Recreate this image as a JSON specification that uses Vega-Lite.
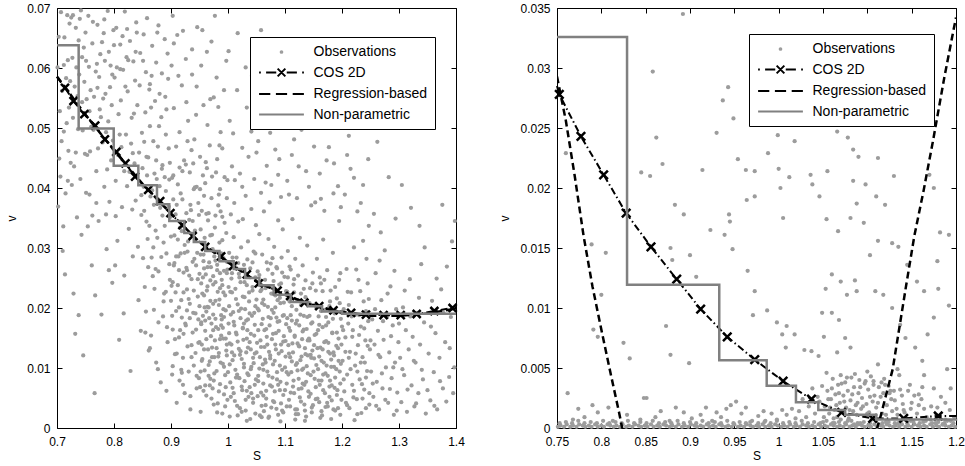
{
"$schema": "https://vega.github.io/schema/vega-lite/v6.json",
"padding": {"left": 5, "top": 1, "right": 5, "bottom": 5},
"config": {
 "font": "Liberation Sans",
 "view": {"stroke": "black", "strokeWidth": 1},
 "axis": {"domain": false, "grid": false, "tickColor": "black", "tickSize": -5, "tickWidth": 1, "labelPadding": 12, "labelFlush": false, "labelFontSize": 12, "labelColor": "black", "labelFont": "Liberation Sans", "titleFontSize": 12, "titleFontWeight": "normal", "titleColor": "black", "titleFont": "Liberation Sans", "format": "~g"}
},
"datasets": {
"series": [{"series": "Observations"}, {"series": "COS 2D"}, {"series": "Regression-based"}, {"series": "Non-parametric"}],
"obsL": [
{"s":0.703,"v":0.0652},{"s":0.708,"v":0.0478},{"s":0.712,"v":0.0605},{"s":0.715,"v":0.0391},{"s":0.718,"v":0.0688},{"s":0.721,"v":0.0534},{"s":0.724,"v":0.0442},{"s":0.727,"v":0.0617},{"s":0.729,"v":0.0224},{"s":0.731,"v":0.0569},{"s":0.733,"v":0.0667},{"s":0.735,"v":0.0351},{"s":0.737,"v":0.0498},{"s":0.739,"v":0.0589},{"s":0.741,"v":0.0415},{"s":0.742,"v":0.0696},{"s":0.744,"v":0.0543},{"s":0.746,"v":0.0121},{"s":0.747,"v":0.0634},{"s":0.749,"v":0.0457},{"s":0.705,"v":0.0528},{"s":0.710,"v":0.0295},{"s":0.716,"v":0.0583},{"s":0.722,"v":0.0674},{"s":0.726,"v":0.0405},{"s":0.732,"v":0.0157},{"s":0.738,"v":0.0646},{"s":0.743,"v":0.0322},{"s":0.748,"v":0.0577},{"s":0.706,"v":0.0419},
{"s":0.751,"v":0.0612},{"s":0.753,"v":0.0455},{"s":0.755,"v":0.0687},{"s":0.757,"v":0.0389},{"s":0.759,"v":0.0563},{"s":0.761,"v":0.0271},{"s":0.762,"v":0.0641},{"s":0.764,"v":0.0497},{"s":0.766,"v":0.0058},{"s":0.768,"v":0.0594},{"s":0.769,"v":0.0428},{"s":0.771,"v":0.0672},{"s":0.773,"v":0.0345},{"s":0.775,"v":0.0531},{"s":0.776,"v":0.0623},{"s":0.778,"v":0.0189},{"s":0.780,"v":0.0476},{"s":0.782,"v":0.0658},{"s":0.783,"v":0.0402},{"s":0.785,"v":0.0557},{"s":0.787,"v":0.0298},{"s":0.789,"v":0.0695},{"s":0.790,"v":0.0511},{"s":0.792,"v":0.0377},{"s":0.794,"v":0.0604},{"s":0.795,"v":0.0446},{"s":0.797,"v":0.0242},{"s":0.799,"v":0.0663},{"s":0.754,"v":0.0336},{"s":0.760,"v":0.0502},{"s":0.767,"v":0.0221},{"s":0.774,"v":0.0585},{"s":0.781,"v":0.0549},{"s":0.788,"v":0.0431},{"s":0.796,"v":0.0538},
{"s":0.801,"v":0.0584},{"s":0.803,"v":0.0412},{"s":0.804,"v":0.0667},{"s":0.806,"v":0.0312},{"s":0.808,"v":0.0523},{"s":0.809,"v":0.0147},{"s":0.811,"v":0.0639},{"s":0.813,"v":0.0468},{"s":0.814,"v":0.0368},{"s":0.816,"v":0.0597},{"s":0.818,"v":0.0254},{"s":0.819,"v":0.0694},{"s":0.821,"v":0.0489},{"s":0.823,"v":0.0403},{"s":0.824,"v":0.0561},{"s":0.826,"v":0.0332},{"s":0.828,"v":0.0645},{"s":0.829,"v":0.0095},{"s":0.831,"v":0.0517},{"s":0.833,"v":0.0286},{"s":0.834,"v":0.0611},{"s":0.836,"v":0.0441},{"s":0.838,"v":0.0379},{"s":0.839,"v":0.0676},{"s":0.841,"v":0.0538},{"s":0.843,"v":0.0213},{"s":0.844,"v":0.0459},{"s":0.846,"v":0.0625},{"s":0.848,"v":0.0355},{"s":0.849,"v":0.0492},{"s":0.802,"v":0.0271},{"s":0.807,"v":0.0455},{"s":0.812,"v":0.0546},{"s":0.817,"v":0.0191},{"s":0.822,"v":0.0618},{"s":0.827,"v":0.0427},{"s":0.832,"v":0.0364},{"s":0.837,"v":0.0579},{"s":0.842,"v":0.0302},{"s":0.847,"v":0.0162},
{"s":0.851,"v":0.0612},{"s":0.852,"v":0.0402},{"s":0.854,"v":0.0235},{"s":0.855,"v":0.0526},{"s":0.857,"v":0.0344},{"s":0.858,"v":0.0683},{"s":0.860,"v":0.0451},{"s":0.861,"v":0.0129},{"s":0.863,"v":0.0573},{"s":0.864,"v":0.0386},{"s":0.866,"v":0.0284},{"s":0.867,"v":0.0637},{"s":0.869,"v":0.0478},{"s":0.870,"v":0.0197},{"s":0.872,"v":0.0545},{"s":0.873,"v":0.0329},{"s":0.875,"v":0.0415},{"s":0.876,"v":0.0659},{"s":0.878,"v":0.0261},{"s":0.879,"v":0.0503},{"s":0.881,"v":0.0367},{"s":0.882,"v":0.0076},{"s":0.884,"v":0.0591},{"s":0.885,"v":0.0438},{"s":0.887,"v":0.0309},{"s":0.888,"v":0.0224},{"s":0.890,"v":0.0552},{"s":0.891,"v":0.0395},{"s":0.893,"v":0.0168},{"s":0.894,"v":0.0624},{"s":0.896,"v":0.0466},{"s":0.897,"v":0.0273},{"s":0.899,"v":0.0352},{"s":0.853,"v":0.0477},{"s":0.859,"v":0.0315},{"s":0.862,"v":0.0564},{"s":0.868,"v":0.0253},{"s":0.871,"v":0.0424},{"s":0.874,"v":0.0109},{"s":0.877,"v":0.0381},{"s":0.883,"v":0.0518},{"s":0.886,"v":0.0186},{"s":0.889,"v":0.0337},{"s":0.892,"v":0.0062},{"s":0.898,"v":0.0442},
{"s":0.901,"v":0.0604},{"s":0.902,"v":0.0417},{"s":0.903,"v":0.0243},{"s":0.905,"v":0.0533},{"s":0.906,"v":0.0321},{"s":0.907,"v":0.0148},{"s":0.909,"v":0.0469},{"s":0.910,"v":0.0372},{"s":0.911,"v":0.0655},{"s":0.913,"v":0.0286},{"s":0.914,"v":0.0201},{"s":0.915,"v":0.0493},{"s":0.917,"v":0.0391},{"s":0.918,"v":0.0097},{"s":0.919,"v":0.0571},{"s":0.921,"v":0.0337},{"s":0.922,"v":0.0259},{"s":0.923,"v":0.0446},{"s":0.925,"v":0.0174},{"s":0.926,"v":0.0615},{"s":0.927,"v":0.0358},{"s":0.929,"v":0.0294},{"s":0.930,"v":0.0512},{"s":0.931,"v":0.0215},{"s":0.933,"v":0.0426},{"s":0.934,"v":0.0053},{"s":0.935,"v":0.0363},{"s":0.937,"v":0.0589},{"s":0.938,"v":0.0277},{"s":0.939,"v":0.0192},{"s":0.941,"v":0.0481},{"s":0.942,"v":0.0329},{"s":0.943,"v":0.0125},{"s":0.945,"v":0.0402},{"s":0.946,"v":0.0668},{"s":0.947,"v":0.0248},{"s":0.949,"v":0.0355},{"s":0.904,"v":0.0381},{"s":0.908,"v":0.0226},{"s":0.912,"v":0.0314},{"s":0.916,"v":0.0163},{"s":0.920,"v":0.0428},{"s":0.924,"v":0.0305},{"s":0.928,"v":0.0231},{"s":0.932,"v":0.0347},{"s":0.936,"v":0.0138},{"s":0.940,"v":0.0398},{"s":0.944,"v":0.0271},{"s":0.948,"v":0.0181},{"s":0.903,"v":0.0687},{"s":0.919,"v":0.0092},{"s":0.927,"v":0.0543},{"s":0.936,"v":0.0463},{"s":0.944,"v":0.0522},{"s":0.949,"v":0.0083},
{"s":0.951,"v":0.0452},{"s":0.952,"v":0.0289},{"s":0.953,"v":0.0173},{"s":0.954,"v":0.0362},{"s":0.955,"v":0.0224},{"s":0.957,"v":0.0538},{"s":0.958,"v":0.0131},{"s":0.959,"v":0.0317},{"s":0.960,"v":0.0408},{"s":0.961,"v":0.0256},{"s":0.962,"v":0.0194},{"s":0.963,"v":0.0627},{"s":0.965,"v":0.0346},{"s":0.966,"v":0.0087},{"s":0.967,"v":0.0276},{"s":0.968,"v":0.0471},{"s":0.969,"v":0.0212},{"s":0.970,"v":0.0153},{"s":0.971,"v":0.0383},{"s":0.973,"v":0.0298},{"s":0.974,"v":0.0239},{"s":0.975,"v":0.0551},{"s":0.976,"v":0.0118},{"s":0.977,"v":0.0334},{"s":0.978,"v":0.0182},{"s":0.979,"v":0.0426},{"s":0.981,"v":0.0263},{"s":0.982,"v":0.0041},{"s":0.983,"v":0.0371},{"s":0.984,"v":0.0205},{"s":0.985,"v":0.0309},{"s":0.986,"v":0.0148},{"s":0.987,"v":0.0493},{"s":0.989,"v":0.0247},{"s":0.990,"v":0.0352},{"s":0.991,"v":0.0167},{"s":0.992,"v":0.0283},{"s":0.993,"v":0.0102},{"s":0.994,"v":0.0418},{"s":0.995,"v":0.0221},{"s":0.997,"v":0.0325},{"s":0.998,"v":0.0139},{"s":0.999,"v":0.0264},{"s":0.952,"v":0.0094},{"s":0.956,"v":0.0421},{"s":0.958,"v":0.0266},{"s":0.962,"v":0.0357},{"s":0.964,"v":0.0202},{"s":0.968,"v":0.0071},{"s":0.972,"v":0.0322},{"s":0.974,"v":0.0163},{"s":0.978,"v":0.0243},{"s":0.980,"v":0.0584},{"s":0.984,"v":0.0125},{"s":0.986,"v":0.0398},{"s":0.988,"v":0.0188},{"s":0.992,"v":0.0226},{"s":0.996,"v":0.0068},{"s":0.998,"v":0.0383},{"s":0.955,"v":0.0663},{"s":0.964,"v":0.0505},{"s":0.971,"v":0.0644},{"s":0.983,"v":0.0535},{"s":0.990,"v":0.0466},{"s":0.997,"v":0.0612},
{"s":1.001,"v":0.0174},{"s":1.002,"v":0.0292},{"s":1.003,"v":0.0106},{"s":1.004,"v":0.0227},{"s":1.005,"v":0.0356},{"s":1.006,"v":0.0139},{"s":1.007,"v":0.0258},{"s":1.008,"v":0.0067},{"s":1.009,"v":0.0193},{"s":1.010,"v":0.0318},{"s":1.011,"v":0.0121},{"s":1.012,"v":0.0413},{"s":1.013,"v":0.0232},{"s":1.014,"v":0.0159},{"s":1.015,"v":0.0284},{"s":1.016,"v":0.0089},{"s":1.017,"v":0.0206},{"s":1.018,"v":0.0344},{"s":1.019,"v":0.0132},{"s":1.020,"v":0.0251},{"s":1.021,"v":0.0033},{"s":1.022,"v":0.0183},{"s":1.023,"v":0.0301},{"s":1.024,"v":0.0115},{"s":1.025,"v":0.0467},{"s":1.026,"v":0.0219},{"s":1.027,"v":0.0147},{"s":1.028,"v":0.0272},{"s":1.029,"v":0.0078},{"s":1.030,"v":0.0198},{"s":1.031,"v":0.0387},{"s":1.032,"v":0.0126},{"s":1.033,"v":0.0238},{"s":1.034,"v":0.0163},{"s":1.035,"v":0.0311},{"s":1.036,"v":0.0052},{"s":1.037,"v":0.0211},{"s":1.038,"v":0.0143},{"s":1.039,"v":0.0266},{"s":1.040,"v":0.0098},{"s":1.041,"v":0.0365},{"s":1.042,"v":0.0187},{"s":1.043,"v":0.0229},{"s":1.044,"v":0.0117},{"s":1.045,"v":0.0294},{"s":1.046,"v":0.0154},{"s":1.047,"v":0.0072},{"s":1.048,"v":0.0203},{"s":1.049,"v":0.0338},{"s":1.003,"v":0.0512},{"s":1.007,"v":0.0436},{"s":1.011,"v":0.0375},{"s":1.016,"v":0.0563},{"s":1.021,"v":0.0424},{"s":1.026,"v":0.0348},{"s":1.031,"v":0.0601},{"s":1.036,"v":0.0452},{"s":1.041,"v":0.0494},{"s":1.046,"v":0.0415},{"s":1.012,"v":0.0045},{"s":1.018,"v":0.0084},{"s":1.024,"v":0.0027},{"s":1.033,"v":0.0062},{"s":1.039,"v":0.0015},{"s":1.044,"v":0.0049},{"s":1.006,"v":0.0249},{"s":1.014,"v":0.0267},{"s":1.028,"v":0.0174},{"s":1.035,"v":0.0181},{"s":1.048,"v":0.0251},
{"s":1.051,"v":0.0142},{"s":1.052,"v":0.0261},{"s":1.053,"v":0.0087},{"s":1.054,"v":0.0196},{"s":1.055,"v":0.0323},{"s":1.056,"v":0.0118},{"s":1.057,"v":0.0228},{"s":1.058,"v":0.0059},{"s":1.059,"v":0.0173},{"s":1.060,"v":0.0289},{"s":1.061,"v":0.0106},{"s":1.062,"v":0.0214},{"s":1.063,"v":0.0361},{"s":1.064,"v":0.0135},{"s":1.065,"v":0.0247},{"s":1.066,"v":0.0038},{"s":1.067,"v":0.0165},{"s":1.068,"v":0.0276},{"s":1.069,"v":0.0094},{"s":1.070,"v":0.0202},{"s":1.071,"v":0.0315},{"s":1.072,"v":0.0127},{"s":1.073,"v":0.0236},{"s":1.074,"v":0.0071},{"s":1.075,"v":0.0183},{"s":1.076,"v":0.0405},{"s":1.077,"v":0.0148},{"s":1.078,"v":0.0257},{"s":1.079,"v":0.0045},{"s":1.080,"v":0.0192},{"s":1.081,"v":0.0302},{"s":1.082,"v":0.0112},{"s":1.083,"v":0.0221},{"s":1.084,"v":0.0158},{"s":1.085,"v":0.0268},{"s":1.086,"v":0.0081},{"s":1.087,"v":0.0177},{"s":1.088,"v":0.0346},{"s":1.089,"v":0.0124},{"s":1.090,"v":0.0239},{"s":1.091,"v":0.0063},{"s":1.092,"v":0.0208},{"s":1.093,"v":0.0139},{"s":1.094,"v":0.0284},{"s":1.095,"v":0.0097},{"s":1.096,"v":0.0187},{"s":1.097,"v":0.0026},{"s":1.098,"v":0.0153},{"s":1.099,"v":0.0252},{"s":1.053,"v":0.0478},{"s":1.058,"v":0.0392},{"s":1.063,"v":0.0551},{"s":1.068,"v":0.0437},{"s":1.073,"v":0.0376},{"s":1.078,"v":0.0598},{"s":1.083,"v":0.0464},{"s":1.088,"v":0.0422},{"s":1.093,"v":0.0385},{"s":1.098,"v":0.0517},{"s":1.056,"v":0.0021},{"s":1.062,"v":0.0054},{"s":1.071,"v":0.0017},{"s":1.077,"v":0.0069},{"s":1.085,"v":0.0032},{"s":1.092,"v":0.0011},{"s":1.059,"v":0.0231},{"s":1.066,"v":0.0109},{"s":1.075,"v":0.0274},{"s":1.087,"v":0.0213},{"s":1.096,"v":0.0331},
{"s":1.101,"v":0.0119},{"s":1.102,"v":0.0228},{"s":1.103,"v":0.0074},{"s":1.104,"v":0.0183},{"s":1.105,"v":0.0295},{"s":1.106,"v":0.0138},{"s":1.107,"v":0.0047},{"s":1.108,"v":0.0211},{"s":1.109,"v":0.0162},{"s":1.110,"v":0.0264},{"s":1.111,"v":0.0093},{"s":1.112,"v":0.0179},{"s":1.113,"v":0.0348},{"s":1.114,"v":0.0126},{"s":1.115,"v":0.0239},{"s":1.116,"v":0.0058},{"s":1.117,"v":0.0154},{"s":1.118,"v":0.0282},{"s":1.119,"v":0.0105},{"s":1.120,"v":0.0197},{"s":1.121,"v":0.0031},{"s":1.122,"v":0.0141},{"s":1.123,"v":0.0254},{"s":1.124,"v":0.0082},{"s":1.125,"v":0.0171},{"s":1.126,"v":0.0317},{"s":1.127,"v":0.0113},{"s":1.128,"v":0.0224},{"s":1.129,"v":0.0066},{"s":1.130,"v":0.0148},{"s":1.131,"v":0.0271},{"s":1.132,"v":0.0099},{"s":1.133,"v":0.0187},{"s":1.134,"v":0.0039},{"s":1.135,"v":0.0133},{"s":1.136,"v":0.0246},{"s":1.137,"v":0.0077},{"s":1.138,"v":0.0165},{"s":1.139,"v":0.0304},{"s":1.140,"v":0.0121},{"s":1.141,"v":0.0209},{"s":1.142,"v":0.0052},{"s":1.143,"v":0.0146},{"s":1.144,"v":0.0233},{"s":1.145,"v":0.0088},{"s":1.146,"v":0.0174},{"s":1.147,"v":0.0026},{"s":1.148,"v":0.0129},{"s":1.149,"v":0.0259},{"s":1.104,"v":0.0412},{"s":1.112,"v":0.0455},{"s":1.121,"v":0.0383},{"s":1.129,"v":0.0497},{"s":1.137,"v":0.0428},{"s":1.146,"v":0.0371},{"s":1.108,"v":0.0574},{"s":1.126,"v":0.0531},{"s":1.141,"v":0.0603},{"s":1.118,"v":0.0014},{"s":1.135,"v":0.0012},
{"s":1.151,"v":0.0116},{"s":1.152,"v":0.0205},{"s":1.154,"v":0.0068},{"s":1.155,"v":0.0157},{"s":1.156,"v":0.0282},{"s":1.158,"v":0.0098},{"s":1.159,"v":0.0186},{"s":1.160,"v":0.0043},{"s":1.162,"v":0.0134},{"s":1.163,"v":0.0241},{"s":1.164,"v":0.0079},{"s":1.166,"v":0.0168},{"s":1.167,"v":0.0314},{"s":1.168,"v":0.0109},{"s":1.170,"v":0.0197},{"s":1.171,"v":0.0035},{"s":1.172,"v":0.0145},{"s":1.174,"v":0.0263},{"s":1.175,"v":0.0087},{"s":1.176,"v":0.0176},{"s":1.178,"v":0.0052},{"s":1.179,"v":0.0124},{"s":1.180,"v":0.0229},{"s":1.182,"v":0.0071},{"s":1.183,"v":0.0158},{"s":1.184,"v":0.0292},{"s":1.186,"v":0.0102},{"s":1.187,"v":0.0191},{"s":1.188,"v":0.0029},{"s":1.190,"v":0.0137},{"s":1.191,"v":0.0216},{"s":1.192,"v":0.0063},{"s":1.194,"v":0.0149},{"s":1.195,"v":0.0345},{"s":1.196,"v":0.0094},{"s":1.198,"v":0.0182},{"s":1.199,"v":0.0047},{"s":1.153,"v":0.0376},{"s":1.161,"v":0.0424},{"s":1.169,"v":0.0362},{"s":1.177,"v":0.0468},{"s":1.185,"v":0.0391},{"s":1.193,"v":0.0403},{"s":1.157,"v":0.0513},{"s":1.173,"v":0.0446},{"s":1.189,"v":0.0559},{"s":1.165,"v":0.0021},{"s":1.181,"v":0.0015},{"s":1.197,"v":0.0258},{"s":1.161,"v":0.0251},
{"s":1.201,"v":0.0112},{"s":1.203,"v":0.0198},{"s":1.204,"v":0.0061},{"s":1.206,"v":0.0151},{"s":1.208,"v":0.0265},{"s":1.209,"v":0.0089},{"s":1.211,"v":0.0174},{"s":1.213,"v":0.0033},{"s":1.214,"v":0.0127},{"s":1.216,"v":0.0226},{"s":1.218,"v":0.0072},{"s":1.219,"v":0.0163},{"s":1.221,"v":0.0301},{"s":1.223,"v":0.0104},{"s":1.224,"v":0.0189},{"s":1.226,"v":0.0048},{"s":1.228,"v":0.0138},{"s":1.229,"v":0.0247},{"s":1.231,"v":0.0081},{"s":1.233,"v":0.0169},{"s":1.234,"v":0.0025},{"s":1.236,"v":0.0118},{"s":1.238,"v":0.0211},{"s":1.239,"v":0.0064},{"s":1.241,"v":0.0146},{"s":1.243,"v":0.0282},{"s":1.244,"v":0.0095},{"s":1.246,"v":0.0178},{"s":1.248,"v":0.0039},{"s":1.249,"v":0.0131},{"s":1.205,"v":0.0389},{"s":1.215,"v":0.0432},{"s":1.227,"v":0.0361},{"s":1.237,"v":0.0405},{"s":1.247,"v":0.0337},{"s":1.212,"v":0.0487},{"s":1.232,"v":0.0228},{"s":1.242,"v":0.0195},{"s":1.222,"v":0.0013},{"s":1.245,"v":0.0241},
{"s":1.251,"v":0.0094},{"s":1.253,"v":0.0181},{"s":1.255,"v":0.0052},{"s":1.257,"v":0.0139},{"s":1.259,"v":0.0258},{"s":1.261,"v":0.0077},{"s":1.263,"v":0.0162},{"s":1.265,"v":0.0031},{"s":1.267,"v":0.0118},{"s":1.269,"v":0.0213},{"s":1.271,"v":0.0066},{"s":1.273,"v":0.0147},{"s":1.275,"v":0.0296},{"s":1.277,"v":0.0101},{"s":1.279,"v":0.0185},{"s":1.281,"v":0.0042},{"s":1.283,"v":0.0126},{"s":1.285,"v":0.0236},{"s":1.287,"v":0.0083},{"s":1.289,"v":0.0171},{"s":1.291,"v":0.0022},{"s":1.293,"v":0.0109},{"s":1.295,"v":0.0198},{"s":1.297,"v":0.0059},{"s":1.299,"v":0.0143},{"s":1.256,"v":0.0357},{"s":1.268,"v":0.0326},{"s":1.282,"v":0.0418},{"s":1.294,"v":0.0349},{"s":1.262,"v":0.0477},
{"s":1.302,"v":0.0117},{"s":1.304,"v":0.0043},{"s":1.307,"v":0.0201},{"s":1.309,"v":0.0088},{"s":1.312,"v":0.0163},{"s":1.314,"v":0.0027},{"s":1.317,"v":0.0131},{"s":1.319,"v":0.0248},{"s":1.322,"v":0.0071},{"s":1.324,"v":0.0152},{"s":1.327,"v":0.0036},{"s":1.329,"v":0.0109},{"s":1.332,"v":0.0192},{"s":1.334,"v":0.0058},{"s":1.337,"v":0.0139},{"s":1.339,"v":0.0273},{"s":1.342,"v":0.0081},{"s":1.344,"v":0.0176},{"s":1.347,"v":0.0024},{"s":1.305,"v":0.0405},{"s":1.321,"v":0.0367},{"s":1.336,"v":0.0337},
{"s":1.352,"v":0.0124},{"s":1.355,"v":0.0046},{"s":1.358,"v":0.0212},{"s":1.361,"v":0.0093},{"s":1.364,"v":0.0158},{"s":1.367,"v":0.0031},{"s":1.371,"v":0.0117},{"s":1.374,"v":0.0231},{"s":1.377,"v":0.0066},{"s":1.381,"v":0.0143},{"s":1.384,"v":0.0269},{"s":1.388,"v":0.0085},{"s":1.391,"v":0.0185},{"s":1.395,"v":0.0058},{"s":1.398,"v":0.0345},
{"s":0.701,"v":0.0601},{"s":0.704,"v":0.0449},{"s":0.707,"v":0.0693},{"s":0.709,"v":0.0562},{"s":0.711,"v":0.0336},{"s":0.713,"v":0.0651},{"s":0.717,"v":0.0508},{"s":0.719,"v":0.0613},{"s":0.720,"v":0.0462},{"s":0.723,"v":0.0578},{"s":0.725,"v":0.0684},{"s":0.728,"v":0.0517},{"s":0.730,"v":0.0436},{"s":0.734,"v":0.0601},{"s":0.736,"v":0.0553},{"s":0.740,"v":0.0682},{"s":0.745,"v":0.0496},{"s":0.750,"v":0.0659},{"s":0.752,"v":0.0548},{"s":0.756,"v":0.0602},{"s":0.758,"v":0.0461},{"s":0.763,"v":0.0677},{"s":0.765,"v":0.0552},{"s":0.770,"v":0.0607},{"s":0.772,"v":0.0466},{"s":0.777,"v":0.0518},{"s":0.779,"v":0.0643},{"s":0.784,"v":0.0612},{"s":0.786,"v":0.0493},{"s":0.791,"v":0.0627},{"s":0.793,"v":0.0568},{"s":0.798,"v":0.0479},{"s":0.800,"v":0.0638},{"s":0.805,"v":0.0601},{"s":0.810,"v":0.0489},{"s":0.815,"v":0.0653},{"s":0.820,"v":0.0569},{"s":0.825,"v":0.0613},{"s":0.830,"v":0.0474},{"s":0.835,"v":0.0524},{"s":0.840,"v":0.0659},{"s":0.845,"v":0.0571},{"s":0.850,"v":0.0433},{"s":0.856,"v":0.0593},{"s":0.865,"v":0.0534},{"s":0.874,"v":0.0609},{"s":0.880,"v":0.0557},{"s":0.889,"v":0.0648},{"s":0.895,"v":0.0582},{"s":0.712,"v":0.0494},{"s":0.728,"v":0.0688},{"s":0.744,"v":0.0618},{"s":0.757,"v":0.0528},{"s":0.771,"v":0.0567},{"s":0.783,"v":0.0681},{"s":0.797,"v":0.0589},{"s":0.811,"v":0.0598},{"s":0.823,"v":0.0665},{"s":0.838,"v":0.0627},{"s":0.852,"v":0.0656},{"s":0.866,"v":0.0587},{"s":0.878,"v":0.0671},{"s":0.892,"v":0.0531},{"s":0.702,"v":0.0369},{"s":0.719,"v":0.0412},{"s":0.733,"v":0.0459},{"s":0.751,"v":0.0392},{"s":0.769,"v":0.0375},{"s":0.786,"v":0.0356},{"s":0.803,"v":0.0353},{"s":0.818,"v":0.0428},{"s":0.833,"v":0.0458},{"s":0.848,"v":0.0388},{"s":0.863,"v":0.0503},{"s":0.877,"v":0.0469},{"s":0.891,"v":0.0489},{"s":0.714,"v":0.0256},{"s":0.738,"v":0.0188},{"s":0.762,"v":0.0354},{"s":0.791,"v":0.0263},
{"s":0.851,"v":0.0283},{"s":0.853,"v":0.0362},{"s":0.856,"v":0.0194},{"s":0.858,"v":0.0421},{"s":0.860,"v":0.0268},{"s":0.862,"v":0.0337},{"s":0.865,"v":0.0154},{"s":0.867,"v":0.0396},{"s":0.869,"v":0.0301},{"s":0.871,"v":0.0232},{"s":0.874,"v":0.0446},{"s":0.876,"v":0.0317},{"s":0.878,"v":0.0176},{"s":0.880,"v":0.0403},{"s":0.883,"v":0.0285},{"s":0.885,"v":0.0354},{"s":0.887,"v":0.0211},{"s":0.889,"v":0.0418},{"s":0.892,"v":0.0291},{"s":0.894,"v":0.0143},{"s":0.896,"v":0.0369},{"s":0.898,"v":0.0247},{"s":0.900,"v":0.0319},{"s":0.902,"v":0.0187},{"s":0.904,"v":0.0421},{"s":0.906,"v":0.0275},{"s":0.908,"v":0.0356},{"s":0.910,"v":0.0124},{"s":0.912,"v":0.0406},{"s":0.914,"v":0.0263},{"s":0.916,"v":0.0334},{"s":0.918,"v":0.0213},{"s":0.920,"v":0.0381},{"s":0.922,"v":0.0157},{"s":0.924,"v":0.0292},{"s":0.926,"v":0.0439},{"s":0.928,"v":0.0196},{"s":0.930,"v":0.0311},{"s":0.932,"v":0.0254},{"s":0.934,"v":0.0372},{"s":0.936,"v":0.0118},{"s":0.938,"v":0.0345},{"s":0.940,"v":0.0229},{"s":0.942,"v":0.0401},{"s":0.944,"v":0.0164},{"s":0.946,"v":0.0292},{"s":0.948,"v":0.0375},{"s":0.950,"v":0.0203},{"s":0.952,"v":0.0331},{"s":0.954,"v":0.0139},{"s":0.956,"v":0.0251},{"s":0.958,"v":0.0387},{"s":0.960,"v":0.0179},{"s":0.962,"v":0.0302},{"s":0.964,"v":0.0236},{"s":0.966,"v":0.0358},{"s":0.968,"v":0.0111},{"s":0.970,"v":0.0268},{"s":0.972,"v":0.0419},{"s":0.974,"v":0.0189},{"s":0.976,"v":0.0286},{"s":0.978,"v":0.0354},{"s":0.980,"v":0.0133},{"s":0.982,"v":0.0227},{"s":0.984,"v":0.0389},{"s":0.986,"v":0.0258},{"s":0.988,"v":0.0171},{"s":0.990,"v":0.0313},{"s":0.992,"v":0.0198},{"s":0.994,"v":0.0342},{"s":0.996,"v":0.0149},{"s":0.998,"v":0.0277},{"s":0.857,"v":0.0452},{"s":0.863,"v":0.0133},{"s":0.870,"v":0.0372},{"s":0.877,"v":0.0098},{"s":0.884,"v":0.0432},{"s":0.891,"v":0.0227},{"s":0.897,"v":0.0414},{"s":0.903,"v":0.0103},{"s":0.909,"v":0.0286},{"s":0.915,"v":0.0434},{"s":0.921,"v":0.0072},{"s":0.927,"v":0.0267},{"s":0.933,"v":0.0183},{"s":0.939,"v":0.0441},{"s":0.945,"v":0.0087},{"s":0.951,"v":0.0398},{"s":0.957,"v":0.0062},{"s":0.963,"v":0.0433},{"s":0.969,"v":0.0321},{"s":0.975,"v":0.0079},{"s":0.981,"v":0.0448},{"s":0.987,"v":0.0361},{"s":0.993,"v":0.0056},{"s":0.999,"v":0.0413},{"s":0.855,"v":0.0159},{"s":0.873,"v":0.0265},{"s":0.901,"v":0.0237},{"s":0.919,"v":0.0328},
{"s":0.950,"v":0.0143},{"s":0.951,"v":0.0068},{"s":0.953,"v":0.0241},{"s":0.954,"v":0.0112},{"s":0.956,"v":0.0187},{"s":0.957,"v":0.0278},{"s":0.959,"v":0.0096},{"s":0.960,"v":0.0162},{"s":0.962,"v":0.0054},{"s":0.963,"v":0.0229},{"s":0.965,"v":0.0131},{"s":0.966,"v":0.0201},{"s":0.968,"v":0.0297},{"s":0.969,"v":0.0082},{"s":0.971,"v":0.0174},{"s":0.972,"v":0.0118},{"s":0.974,"v":0.0253},{"s":0.975,"v":0.0039},{"s":0.977,"v":0.0146},{"s":0.978,"v":0.0212},{"s":0.980,"v":0.0095},{"s":0.981,"v":0.0272},{"s":0.983,"v":0.0165},{"s":0.984,"v":0.0061},{"s":0.986,"v":0.0233},{"s":0.987,"v":0.0109},{"s":0.989,"v":0.0181},{"s":0.990,"v":0.0024},{"s":0.992,"v":0.0149},{"s":0.993,"v":0.0262},{"s":0.995,"v":0.0088},{"s":0.996,"v":0.0196},{"s":0.998,"v":0.0121},{"s":0.999,"v":0.0047},{"s":1.001,"v":0.0235},{"s":1.002,"v":0.0158},{"s":1.004,"v":0.0076},{"s":1.005,"v":0.0189},{"s":1.007,"v":0.0126},{"s":1.008,"v":0.0284},{"s":1.010,"v":0.0058},{"s":1.011,"v":0.0171},{"s":1.013,"v":0.0097},{"s":1.014,"v":0.0215},{"s":1.016,"v":0.0037},{"s":1.017,"v":0.0144},{"s":1.019,"v":0.0257},{"s":1.020,"v":0.0083},{"s":1.022,"v":0.0128},{"s":1.023,"v":0.0199},{"s":1.025,"v":0.0063},{"s":1.026,"v":0.0166},{"s":1.028,"v":0.0107},{"s":1.029,"v":0.0243},{"s":1.031,"v":0.0029},{"s":1.032,"v":0.0179},{"s":1.034,"v":0.0091},{"s":1.035,"v":0.0134},{"s":1.037,"v":0.0226},{"s":1.038,"v":0.0068},{"s":1.040,"v":0.0157},{"s":1.041,"v":0.0102},{"s":1.043,"v":0.0276},{"s":1.044,"v":0.0042},{"s":1.046,"v":0.0192},{"s":1.047,"v":0.0124},{"s":1.049,"v":0.0081},{"s":1.050,"v":0.0214},{"s":1.052,"v":0.0053},{"s":1.053,"v":0.0163},{"s":1.055,"v":0.0099},{"s":1.056,"v":0.0238},{"s":1.058,"v":0.0135},{"s":1.059,"v":0.0018},{"s":1.061,"v":0.0182},{"s":1.062,"v":0.0074},{"s":1.064,"v":0.0205},{"s":1.065,"v":0.0114},{"s":1.067,"v":0.0049},{"s":1.068,"v":0.0152},{"s":1.070,"v":0.0264},{"s":1.071,"v":0.0087},{"s":1.073,"v":0.0171},{"s":1.074,"v":0.0121},{"s":1.076,"v":0.0034},{"s":1.077,"v":0.0197},{"s":1.079,"v":0.0106},{"s":1.080,"v":0.0245},{"s":1.082,"v":0.0061},{"s":1.083,"v":0.0139},{"s":1.085,"v":0.0184},{"s":1.086,"v":0.0093},{"s":1.088,"v":0.0022},{"s":1.089,"v":0.0162},{"s":1.091,"v":0.0217},{"s":1.092,"v":0.0077},{"s":1.094,"v":0.0128},{"s":1.095,"v":0.0259},{"s":1.097,"v":0.0055},{"s":1.098,"v":0.0188},{"s":1.100,"v":0.0101},{"s":1.101,"v":0.0145},{"s":1.103,"v":0.0036},{"s":1.104,"v":0.0227},{"s":1.106,"v":0.0089},{"s":1.107,"v":0.0167},{"s":1.109,"v":0.0118},{"s":1.110,"v":0.0059},{"s":1.112,"v":0.0203},{"s":1.113,"v":0.0141},{"s":1.115,"v":0.0079},{"s":1.116,"v":0.0248},{"s":1.118,"v":0.0031},{"s":1.119,"v":0.0174},{"s":1.121,"v":0.0108},{"s":1.122,"v":0.0213},{"s":1.124,"v":0.0065},{"s":1.125,"v":0.0136},{"s":1.127,"v":0.0189},{"s":1.128,"v":0.0044},{"s":1.130,"v":0.0097},{"s":1.131,"v":0.0161},{"s":1.133,"v":0.0232},{"s":1.134,"v":0.0072},{"s":1.136,"v":0.0123},{"s":1.137,"v":0.0019},{"s":1.139,"v":0.0185},{"s":1.140,"v":0.0091},{"s":1.142,"v":0.0149},{"s":1.143,"v":0.0208},{"s":1.145,"v":0.0057},{"s":1.146,"v":0.0117},{"s":1.148,"v":0.0176},{"s":1.149,"v":0.0038},{"s":1.151,"v":0.0138},{"s":1.152,"v":0.0082},{"s":1.154,"v":0.0229},{"s":1.155,"v":0.0105},{"s":1.157,"v":0.0049},{"s":1.158,"v":0.0163},{"s":1.160,"v":0.0119},{"s":1.161,"v":0.0072},{"s":1.163,"v":0.0195},{"s":1.164,"v":0.0028},{"s":1.166,"v":0.0131},{"s":1.167,"v":0.0089},{"s":1.169,"v":0.0247},{"s":1.170,"v":0.0058},{"s":1.172,"v":0.0171},{"s":1.173,"v":0.0104},{"s":1.175,"v":0.0036},{"s":1.176,"v":0.0142},{"s":1.178,"v":0.0203},{"s":1.179,"v":0.0079},{"s":1.181,"v":0.0114},{"s":1.182,"v":0.0046},{"s":1.184,"v":0.0182},{"s":1.185,"v":0.0126},{"s":1.187,"v":0.0067},{"s":1.188,"v":0.0235},{"s":1.190,"v":0.0098},{"s":1.191,"v":0.0159},{"s":1.193,"v":0.0033},{"s":1.194,"v":0.0112},{"s":1.196,"v":0.0208},{"s":1.197,"v":0.0074},{"s":1.199,"v":0.0139},{"s":0.958,"v":0.0221},{"s":0.973,"v":0.0066},{"s":0.988,"v":0.0291},{"s":1.003,"v":0.0019},{"s":1.018,"v":0.0275},{"s":1.033,"v":0.0012},{"s":1.048,"v":0.0291},{"s":1.063,"v":0.0028},{"s":1.078,"v":0.0283},{"s":1.093,"v":0.0041},{"s":1.108,"v":0.0269},{"s":1.123,"v":0.0023},
{"s":1.202,"v":0.0163},{"s":1.207,"v":0.0042},{"s":1.210,"v":0.0227},{"s":1.212,"v":0.0117},{"s":1.217,"v":0.0186},{"s":1.220,"v":0.0051},{"s":1.225,"v":0.0264},{"s":1.227,"v":0.0094},{"s":1.230,"v":0.0155},{"s":1.235,"v":0.0073},{"s":1.237,"v":0.0312},{"s":1.240,"v":0.0109},{"s":1.242,"v":0.0033},{"s":1.247,"v":0.0215},{"s":1.250,"v":0.0146},{"s":1.254,"v":0.0074},{"s":1.258,"v":0.0198},{"s":1.260,"v":0.0037},{"s":1.264,"v":0.0122},{"s":1.266,"v":0.0279},{"s":1.270,"v":0.0091},{"s":1.272,"v":0.0178},{"s":1.276,"v":0.0047},{"s":1.280,"v":0.0224},{"s":1.284,"v":0.0065},{"s":1.286,"v":0.0153},{"s":1.290,"v":0.0101},{"s":1.292,"v":0.0262},{"s":1.296,"v":0.0029},{"s":1.300,"v":0.0174},{"s":1.306,"v":0.0098},{"s":1.310,"v":0.0229},{"s":1.315,"v":0.0064},{"s":1.320,"v":0.0186},{"s":1.326,"v":0.0112},{"s":1.330,"v":0.0041},{"s":1.335,"v":0.0217},{"s":1.340,"v":0.0097},{"s":1.345,"v":0.0301},{"s":1.350,"v":0.0063},{"s":1.356,"v":0.0169},{"s":1.362,"v":0.0037},{"s":1.366,"v":0.0249},{"s":1.372,"v":0.0078},{"s":1.378,"v":0.0192},{"s":1.383,"v":0.0044},{"s":1.389,"v":0.0133},{"s":1.393,"v":0.0311},{"s":1.397,"v":0.0101},{"s":1.376,"v":0.0372},
{"s":0.905,"v":0.0641},{"s":0.913,"v":0.0587},{"s":0.921,"v":0.0662},{"s":0.929,"v":0.0478},{"s":0.937,"v":0.0631},{"s":0.945,"v":0.0569},{"s":0.953,"v":0.0604},{"s":0.961,"v":0.0443},{"s":0.969,"v":0.0548},{"s":0.977,"v":0.0687},{"s":0.985,"v":0.0471},{"s":0.993,"v":0.0563},{"s":1.001,"v":0.0628},{"s":1.009,"v":0.0491},{"s":1.017,"v":0.0658},{"s":1.025,"v":0.0402},{"s":1.033,"v":0.0534},{"s":1.042,"v":0.0587},{"s":1.050,"v":0.0459},{"s":1.058,"v":0.0663},{"s":1.066,"v":0.0409},{"s":1.074,"v":0.0492},{"s":1.082,"v":0.0563},{"s":1.090,"v":0.0448},{"s":1.099,"v":0.0612},{"s":1.107,"v":0.0389},{"s":1.116,"v":0.0481},{"s":1.124,"v":0.0436},{"s":1.133,"v":0.0558},{"s":1.142,"v":0.0402},{"s":1.151,"v":0.0469},{"s":1.163,"v":0.0382},{"s":1.174,"v":0.0531},{"s":1.186,"v":0.0441},{"s":1.198,"v":0.0368},{"s":1.209,"v":0.0455},{"s":1.221,"v":0.0417},{"s":1.233,"v":0.0375},{"s":1.246,"v":0.0448},{"s":1.188,"v":0.0613},
{"s":0.900,"v":0.0212},{"s":0.902,"v":0.0089},{"s":0.903,"v":0.0164},{"s":0.905,"v":0.0271},{"s":0.907,"v":0.0123},{"s":0.909,"v":0.0195},{"s":0.910,"v":0.0042},{"s":0.912,"v":0.0238},{"s":0.914,"v":0.0151},{"s":0.915,"v":0.0079},{"s":0.917,"v":0.0291},{"s":0.919,"v":0.0184},{"s":0.921,"v":0.0117},{"s":0.922,"v":0.0226},{"s":0.924,"v":0.0058},{"s":0.926,"v":0.0171},{"s":0.928,"v":0.0263},{"s":0.929,"v":0.0136},{"s":0.931,"v":0.0094},{"s":0.933,"v":0.0207},{"s":0.934,"v":0.0031},{"s":0.936,"v":0.0248},{"s":0.938,"v":0.0159},{"s":0.940,"v":0.0104},{"s":0.941,"v":0.0282},{"s":0.943,"v":0.0191},{"s":0.945,"v":0.0066},{"s":0.947,"v":0.0219},{"s":0.948,"v":0.0142},{"s":0.950,"v":0.0257},{"s":0.952,"v":0.0027},{"s":0.953,"v":0.0176},{"s":0.955,"v":0.0115},{"s":0.957,"v":0.0289},{"s":0.959,"v":0.0201},{"s":0.960,"v":0.0071},{"s":0.962,"v":0.0148},{"s":0.964,"v":0.0268},{"s":0.966,"v":0.0105},{"s":0.967,"v":0.0183},{"s":0.969,"v":0.0246},{"s":0.971,"v":0.0049},{"s":0.972,"v":0.0134},{"s":0.974,"v":0.0207},{"s":0.976,"v":0.0091},{"s":0.978,"v":0.0279},{"s":0.979,"v":0.0168},{"s":0.981,"v":0.0026},{"s":0.983,"v":0.0119},{"s":0.985,"v":0.0214},{"s":0.986,"v":0.0073},{"s":0.988,"v":0.0154},{"s":0.990,"v":0.0238},{"s":0.991,"v":0.0107},{"s":0.993,"v":0.0185},{"s":0.995,"v":0.0036},{"s":0.997,"v":0.0129},{"s":0.998,"v":0.0258},{"s":1.000,"v":0.0093},{"s":1.002,"v":0.0203},{"s":1.003,"v":0.0141},{"s":1.005,"v":0.0052},{"s":1.007,"v":0.0226},{"s":1.008,"v":0.0113},{"s":1.010,"v":0.0177},{"s":1.012,"v":0.0269},{"s":1.014,"v":0.0084},{"s":1.015,"v":0.0156},{"s":1.017,"v":0.0021},{"s":1.019,"v":0.0195},{"s":1.021,"v":0.0122},{"s":1.022,"v":0.0243},{"s":1.024,"v":0.0069},{"s":1.026,"v":0.0167},{"s":1.028,"v":0.0101},{"s":1.029,"v":0.0218},{"s":1.031,"v":0.0047},{"s":1.033,"v":0.0149},{"s":1.034,"v":0.0281},{"s":1.036,"v":0.0088},{"s":1.038,"v":0.0191},{"s":1.040,"v":0.0131},{"s":1.041,"v":0.0058},{"s":1.043,"v":0.0235},{"s":1.045,"v":0.0108},{"s":1.047,"v":0.0172},{"s":1.048,"v":0.0024},{"s":1.050,"v":0.0126},{"s":1.052,"v":0.0199},{"s":1.053,"v":0.0078},{"s":1.055,"v":0.0255},{"s":1.057,"v":0.0146},{"s":1.059,"v":0.0037},{"s":1.060,"v":0.0208},{"s":1.062,"v":0.0097},{"s":1.064,"v":0.0163},{"s":1.066,"v":0.0233},{"s":1.067,"v":0.0062},{"s":1.069,"v":0.0139},{"s":1.071,"v":0.0185},{"s":1.072,"v":0.0019},{"s":1.074,"v":0.0116},{"s":1.076,"v":0.0224},{"s":1.078,"v":0.0084},{"s":1.079,"v":0.0157},{"s":1.081,"v":0.0043},{"s":1.083,"v":0.0201},{"s":1.084,"v":0.0131},{"s":1.086,"v":0.0266},{"s":1.088,"v":0.0072},{"s":1.090,"v":0.0178},{"s":1.091,"v":0.0104},{"s":1.093,"v":0.0241},{"s":1.095,"v":0.0029},{"s":1.097,"v":0.0144},{"s":1.098,"v":0.0209},{"s":1.100,"v":0.0063},{"s":1.102,"v":0.0173},{"s":1.103,"v":0.0093},{"s":1.105,"v":0.0251},{"s":1.107,"v":0.0124},{"s":1.109,"v":0.0036},{"s":1.110,"v":0.0188},{"s":1.112,"v":0.0111},{"s":1.114,"v":0.0069},{"s":1.116,"v":0.0226},{"s":1.117,"v":0.0152},{"s":1.119,"v":0.0023},{"s":1.121,"v":0.0179},{"s":1.122,"v":0.0096},{"s":1.124,"v":0.0137},{"s":1.126,"v":0.0051},{"s":1.128,"v":0.0205},{"s":1.129,"v":0.0119},{"s":1.131,"v":0.0074},{"s":1.133,"v":0.0164},{"s":1.135,"v":0.0029},{"s":1.136,"v":0.0218},{"s":1.138,"v":0.0103},{"s":1.140,"v":0.0146},{"s":1.141,"v":0.0061},{"s":1.143,"v":0.0187},{"s":1.145,"v":0.0122},{"s":1.147,"v":0.0034},{"s":1.148,"v":0.0241},{"s":1.150,"v":0.0094},{"s":1.152,"v":0.0155},{"s":1.154,"v":0.0048},{"s":1.155,"v":0.0201},{"s":1.157,"v":0.0133},{"s":1.159,"v":0.0079},{"s":1.160,"v":0.0172},{"s":1.162,"v":0.0017},{"s":1.164,"v":0.0112},{"s":1.166,"v":0.0228},{"s":1.167,"v":0.0063},{"s":1.169,"v":0.0143},{"s":1.171,"v":0.0091},{"s":1.172,"v":0.0185},{"s":1.174,"v":0.0042},{"s":1.176,"v":0.0127},{"s":1.178,"v":0.0069},{"s":1.179,"v":0.0211},{"s":1.181,"v":0.0102},{"s":1.183,"v":0.0159},{"s":1.185,"v":0.0031},{"s":1.186,"v":0.0121},{"s":1.188,"v":0.0084},{"s":1.190,"v":0.0194},{"s":1.191,"v":0.0055},{"s":1.193,"v":0.0133},{"s":1.195,"v":0.0247},{"s":1.197,"v":0.0022},{"s":1.198,"v":0.0107},{"s":1.200,"v":0.0169},{"s":1.203,"v":0.0081},{"s":1.206,"v":0.0127},{"s":1.209,"v":0.0038},{"s":1.212,"v":0.0205},{"s":1.215,"v":0.0098},{"s":1.218,"v":0.0152},{"s":1.221,"v":0.0062},{"s":1.224,"v":0.0124},{"s":1.227,"v":0.0023},{"s":1.230,"v":0.0188},{"s":1.233,"v":0.0109},{"s":1.236,"v":0.0049},{"s":1.239,"v":0.0166},{"s":1.242,"v":0.0084},{"s":1.245,"v":0.0137},{"s":1.248,"v":0.0058}
],
"obsR": [
{"s":0.751,"v":0.0001},{"s":0.754,"v":0.0002},{"s":0.758,"v":0.0001},{"s":0.761,"v":0.0003},{"s":0.765,"v":0.0001},{"s":0.768,"v":0.0002},{"s":0.772,"v":0.0001},{"s":0.775,"v":0.0003},{"s":0.779,"v":0.0002},{"s":0.782,"v":0.0001},{"s":0.786,"v":0.0002},{"s":0.789,"v":0.0001},{"s":0.793,"v":0.0003},{"s":0.796,"v":0.0001},{"s":0.800,"v":0.0002},{"s":0.803,"v":0.0001},{"s":0.807,"v":0.0003},{"s":0.810,"v":0.0002},{"s":0.814,"v":0.0001},{"s":0.817,"v":0.0002},{"s":0.821,"v":0.0001},{"s":0.824,"v":0.0003},{"s":0.828,"v":0.0001},{"s":0.831,"v":0.0002},{"s":0.835,"v":0.0001},{"s":0.838,"v":0.0003},{"s":0.842,"v":0.0002},{"s":0.845,"v":0.0001},{"s":0.849,"v":0.0002},{"s":0.852,"v":0.0001},{"s":0.856,"v":0.0003},{"s":0.859,"v":0.0001},{"s":0.863,"v":0.0002},{"s":0.866,"v":0.0001},{"s":0.870,"v":0.0003},{"s":0.873,"v":0.0002},{"s":0.877,"v":0.0001},{"s":0.880,"v":0.0002},{"s":0.884,"v":0.0001},{"s":0.887,"v":0.0003},{"s":0.891,"v":0.0001},{"s":0.894,"v":0.0002},{"s":0.898,"v":0.0001},{"s":0.901,"v":0.0003},{"s":0.905,"v":0.0002},{"s":0.908,"v":0.0001},{"s":0.912,"v":0.0002},{"s":0.915,"v":0.0001},{"s":0.919,"v":0.0003},{"s":0.922,"v":0.0001},{"s":0.926,"v":0.0002},{"s":0.929,"v":0.0001},{"s":0.933,"v":0.0003},{"s":0.936,"v":0.0002},{"s":0.940,"v":0.0001},{"s":0.943,"v":0.0002},{"s":0.947,"v":0.0001},{"s":0.950,"v":0.0003},{"s":0.954,"v":0.0001},{"s":0.957,"v":0.0002},{"s":0.961,"v":0.0001},{"s":0.964,"v":0.0003},{"s":0.968,"v":0.0002},{"s":0.971,"v":0.0001},{"s":0.975,"v":0.0002},{"s":0.978,"v":0.0001},{"s":0.982,"v":0.0003},{"s":0.985,"v":0.0001},{"s":0.989,"v":0.0002},{"s":0.992,"v":0.0001},{"s":0.996,"v":0.0003},{"s":0.999,"v":0.0002},{"s":1.003,"v":0.0001},{"s":1.006,"v":0.0002},{"s":1.010,"v":0.0001},{"s":1.013,"v":0.0003},{"s":1.017,"v":0.0001},{"s":1.020,"v":0.0002},{"s":1.024,"v":0.0001},{"s":1.027,"v":0.0003},{"s":1.031,"v":0.0002},{"s":1.034,"v":0.0001},{"s":1.038,"v":0.0002},{"s":1.041,"v":0.0001},{"s":1.045,"v":0.0003},{"s":1.048,"v":0.0001},{"s":1.052,"v":0.0002},{"s":1.055,"v":0.0001},{"s":1.059,"v":0.0003},{"s":1.062,"v":0.0002},{"s":1.066,"v":0.0001},{"s":1.069,"v":0.0002},{"s":1.073,"v":0.0001},{"s":1.076,"v":0.0003},{"s":1.080,"v":0.0001},{"s":1.083,"v":0.0002},{"s":1.087,"v":0.0001},{"s":1.090,"v":0.0003},{"s":1.094,"v":0.0002},{"s":1.097,"v":0.0001},{"s":1.101,"v":0.0002},{"s":1.104,"v":0.0001},{"s":1.108,"v":0.0003},{"s":1.111,"v":0.0001},{"s":1.115,"v":0.0002},{"s":1.118,"v":0.0001},{"s":1.122,"v":0.0003},{"s":1.125,"v":0.0002},{"s":1.129,"v":0.0001},{"s":1.132,"v":0.0002},{"s":1.136,"v":0.0001},{"s":1.139,"v":0.0003},{"s":1.143,"v":0.0001},{"s":1.146,"v":0.0002},{"s":1.150,"v":0.0001},{"s":1.153,"v":0.0003},{"s":1.157,"v":0.0002},{"s":1.160,"v":0.0001},{"s":1.164,"v":0.0002},{"s":1.167,"v":0.0001},{"s":1.171,"v":0.0003},{"s":1.174,"v":0.0001},{"s":1.178,"v":0.0002},{"s":1.181,"v":0.0001},{"s":1.185,"v":0.0003},{"s":1.188,"v":0.0002},{"s":1.192,"v":0.0001},{"s":1.195,"v":0.0002},{"s":1.199,"v":0.0001},
{"s":0.753,"v":0.0004},{"s":0.760,"v":0.0005},{"s":0.767,"v":0.0004},{"s":0.774,"v":0.0006},{"s":0.781,"v":0.0004},{"s":0.788,"v":0.0005},{"s":0.795,"v":0.0004},{"s":0.802,"v":0.0006},{"s":0.809,"v":0.0004},{"s":0.816,"v":0.0005},{"s":0.823,"v":0.0004},{"s":0.830,"v":0.0006},{"s":0.837,"v":0.0004},{"s":0.844,"v":0.0005},{"s":0.851,"v":0.0004},{"s":0.858,"v":0.0006},{"s":0.865,"v":0.0004},{"s":0.872,"v":0.0005},{"s":0.879,"v":0.0004},{"s":0.886,"v":0.0006},{"s":0.893,"v":0.0004},{"s":0.900,"v":0.0005},{"s":0.907,"v":0.0004},{"s":0.914,"v":0.0006},{"s":0.921,"v":0.0004},{"s":0.928,"v":0.0005},{"s":0.935,"v":0.0004},{"s":0.942,"v":0.0006},{"s":0.949,"v":0.0004},{"s":0.956,"v":0.0005},{"s":0.963,"v":0.0004},{"s":0.970,"v":0.0006},{"s":0.977,"v":0.0004},{"s":0.984,"v":0.0005},{"s":0.991,"v":0.0004},{"s":0.998,"v":0.0006},{"s":1.005,"v":0.0004},{"s":1.012,"v":0.0005},{"s":1.019,"v":0.0004},{"s":1.026,"v":0.0006},{"s":1.033,"v":0.0004},{"s":1.040,"v":0.0005},{"s":1.047,"v":0.0004},{"s":1.054,"v":0.0006},{"s":1.061,"v":0.0004},{"s":1.068,"v":0.0005},{"s":1.075,"v":0.0004},{"s":1.082,"v":0.0006},{"s":1.089,"v":0.0004},{"s":1.096,"v":0.0005},{"s":1.103,"v":0.0004},{"s":1.110,"v":0.0006},{"s":1.117,"v":0.0004},{"s":1.124,"v":0.0005},{"s":1.131,"v":0.0004},{"s":1.138,"v":0.0006},{"s":1.145,"v":0.0004},{"s":1.152,"v":0.0005},{"s":1.159,"v":0.0004},{"s":1.166,"v":0.0006},{"s":1.173,"v":0.0004},{"s":1.180,"v":0.0005},{"s":1.187,"v":0.0004},{"s":1.194,"v":0.0006},
{"s":1.050,"v":0.0005},{"s":1.063,"v":0.0004},{"s":1.078,"v":0.0006},{"s":1.092,"v":0.0004},{"s":1.105,"v":0.0007},{"s":1.121,"v":0.0005},{"s":1.135,"v":0.0004},{"s":1.149,"v":0.0006},{"s":1.163,"v":0.0005},{"s":1.177,"v":0.0004},{"s":1.190,"v":0.0006},{"s":1.197,"v":0.0004},{"s":1.070,"v":0.0007},{"s":1.085,"v":0.0003},{"s":1.113,"v":0.0003},{"s":1.142,"v":0.0007},{"s":1.171,"v":0.0007},{"s":1.185,"v":0.0003},
{"s":1.052,"v":0.0018},{"s":1.055,"v":0.0031},{"s":1.057,"v":0.0012},{"s":1.059,"v":0.0024},{"s":1.061,"v":0.0041},{"s":1.063,"v":0.0015},{"s":1.064,"v":0.0028},{"s":1.066,"v":0.0009},{"s":1.067,"v":0.0036},{"s":1.069,"v":0.0021},{"s":1.070,"v":0.0044},{"s":1.072,"v":0.0013},{"s":1.073,"v":0.0027},{"s":1.075,"v":0.0038},{"s":1.076,"v":0.0017},{"s":1.078,"v":0.0031},{"s":1.079,"v":0.0008},{"s":1.081,"v":0.0023},{"s":1.082,"v":0.0042},{"s":1.084,"v":0.0014},{"s":1.085,"v":0.0034},{"s":1.087,"v":0.0019},{"s":1.088,"v":0.0011},{"s":1.090,"v":0.0029},{"s":1.091,"v":0.0040},{"s":1.093,"v":0.0016},{"s":1.094,"v":0.0025},{"s":1.096,"v":0.0010},{"s":1.097,"v":0.0037},{"s":1.099,"v":0.0020},{"s":1.101,"v":0.0032},{"s":1.102,"v":0.0013},{"s":1.104,"v":0.0043},{"s":1.106,"v":0.0022},{"s":1.108,"v":0.0027},{"s":1.110,"v":0.0017},{"s":1.113,"v":0.0034},{"s":1.115,"v":0.0026},{"s":1.117,"v":0.0012},{"s":1.119,"v":0.0041},{"s":1.122,"v":0.0019},{"s":1.125,"v":0.0029},{"s":1.128,"v":0.0014},{"s":1.131,"v":0.0023},{"s":1.134,"v":0.0011},{"s":1.137,"v":0.0032},{"s":1.140,"v":0.0020},{"s":1.044,"v":0.0026},{"s":1.041,"v":0.0012},{"s":1.038,"v":0.0033},{"s":1.034,"v":0.0018},{"s":1.031,"v":0.0009},{"s":1.027,"v":0.0024},{"s":1.023,"v":0.0014},{"s":1.019,"v":0.0008},{"s":1.015,"v":0.0016},{"s":1.009,"v":0.0011},{"s":1.004,"v":0.0015},{"s":0.998,"v":0.0007},{"s":0.992,"v":0.0012},{"s":0.985,"v":0.0006},{"s":0.977,"v":0.0010},{"s":0.968,"v":0.0005},{"s":0.958,"v":0.0012},{"s":0.946,"v":0.0019},{"s":0.941,"v":0.0016},{"s":0.935,"v":0.0009},{"s":0.925,"v":0.0006},{"s":0.912,"v":0.0011},{"s":0.902,"v":0.0008},{"s":0.893,"v":0.0013},{"s":0.877,"v":0.0006},{"s":0.861,"v":0.0009},{"s":0.844,"v":0.0007},{"s":0.829,"v":0.0011},{"s":0.813,"v":0.0006},{"s":0.796,"v":0.0013},{"s":0.781,"v":0.0009},{"s":0.774,"v":0.0016},{"s":0.768,"v":0.0007},{"s":0.790,"v":0.0019},{"s":0.808,"v":0.0017},{"s":0.851,"v":0.0025},{"s":0.848,"v":0.0025},{"s":0.867,"v":0.0014},{"s":0.884,"v":0.0017},{"s":0.918,"v":0.0017},{"s":0.930,"v":0.0013},{"s":0.952,"v":0.0022},{"s":0.963,"v":0.0017},{"s":0.983,"v":0.0014},{"s":1.144,"v":0.0008},{"s":1.150,"v":0.0021},{"s":1.156,"v":0.0012},{"s":1.161,"v":0.0024},{"s":1.167,"v":0.0009},{"s":1.172,"v":0.0018},{"s":1.178,"v":0.0011},{"s":1.183,"v":0.0026},{"s":1.188,"v":0.0007},{"s":1.193,"v":0.0015},{"s":1.198,"v":0.0009},
{"s":1.046,"v":0.0022},{"s":1.049,"v":0.0035},{"s":1.051,"v":0.0009},{"s":1.054,"v":0.0046},{"s":1.056,"v":0.0024},{"s":1.058,"v":0.0017},{"s":1.060,"v":0.0033},{"s":1.062,"v":0.0008},{"s":1.065,"v":0.0019},{"s":1.068,"v":0.0029},{"s":1.071,"v":0.0037},{"s":1.074,"v":0.0022},{"s":1.077,"v":0.0042},{"s":1.080,"v":0.0015},{"s":1.083,"v":0.0028},{"s":1.086,"v":0.0045},{"s":1.089,"v":0.0021},{"s":1.092,"v":0.0034},{"s":1.095,"v":0.0018},{"s":1.098,"v":0.0039},{"s":1.100,"v":0.0012},{"s":1.103,"v":0.0026},{"s":1.107,"v":0.0036},{"s":1.109,"v":0.0009},{"s":1.112,"v":0.0021},{"s":1.116,"v":0.0038},{"s":1.118,"v":0.0029},{"s":1.121,"v":0.0011},{"s":1.124,"v":0.0035},{"s":1.127,"v":0.0024},{"s":1.130,"v":0.0031},{"s":1.133,"v":0.0016},{"s":1.136,"v":0.0044},{"s":1.139,"v":0.0027},{"s":1.142,"v":0.0013},{"s":1.146,"v":0.0031},{"s":1.149,"v":0.0016},{"s":1.153,"v":0.0027},{"s":1.158,"v":0.0019},{"s":1.162,"v":0.0034},
{"s":0.892,"v":0.0345},{"s":0.943,"v":0.0284},{"s":0.937,"v":0.0273},{"s":0.949,"v":0.0258},{"s":0.858,"v":0.0297},{"s":0.862,"v":0.0242},{"s":0.869,"v":0.0220},{"s":0.845,"v":0.0213},{"s":0.855,"v":0.0210},{"s":0.914,"v":0.0215},{"s":0.930,"v":0.0246},{"s":0.954,"v":0.0224},{"s":0.963,"v":0.0215},{"s":0.973,"v":0.0214},{"s":0.964,"v":0.0190},{"s":0.973,"v":0.0193},{"s":0.988,"v":0.0229},{"s":0.999,"v":0.0244},{"s":1.018,"v":0.0239},{"s":1.000,"v":0.0216},{"s":1.002,"v":0.0200},{"s":1.012,"v":0.0209},{"s":0.979,"v":0.0272},{"s":1.005,"v":0.0175},{"s":1.036,"v":0.0211},{"s":1.038,"v":0.0203},{"s":1.046,"v":0.0193},{"s":1.055,"v":0.0214},{"s":1.066,"v":0.0247},{"s":1.078,"v":0.0242},{"s":1.084,"v":0.0232},{"s":1.084,"v":0.0206},{"s":1.090,"v":0.0226},{"s":1.098,"v":0.0203},{"s":1.110,"v":0.0193},{"s":1.112,"v":0.0225},{"s":1.120,"v":0.0186},{"s":1.088,"v":0.0187},{"s":1.130,"v":0.0210},{"s":1.054,"v":0.0174},{"s":1.067,"v":0.0164},{"s":1.081,"v":0.0175},{"s":1.096,"v":0.0171},{"s":1.103,"v":0.0144},{"s":1.112,"v":0.0156},{"s":1.128,"v":0.0154},{"s":1.135,"v":0.0151},{"s":1.145,"v":0.0136},{"s":1.156,"v":0.0122},{"s":1.164,"v":0.0114},{"s":1.175,"v":0.0092},{"s":1.168,"v":0.0078},{"s":1.162,"v":0.0056},{"s":1.179,"v":0.0139},{"s":1.192,"v":0.0161},{"s":1.190,"v":0.0049},{"s":1.175,"v":0.0033},{"s":1.194,"v":0.0033},{"s":1.164,"v":0.0044},{"s":1.192,"v":0.0102},{"s":1.180,"v":0.0116},{"s":1.175,"v":0.0200},{"s":1.170,"v":0.0211},{"s":1.182,"v":0.0163},
{"s":0.873,"v":0.0085},{"s":0.878,"v":0.0061},{"s":0.899,"v":0.0054},{"s":0.832,"v":0.0058},{"s":0.825,"v":0.0071},{"s":0.791,"v":0.0082},{"s":0.796,"v":0.0076},{"s":0.800,"v":0.0111},{"s":0.805,"v":0.0146},{"s":0.789,"v":0.0153},{"s":0.762,"v":0.0029},{"s":0.760,"v":0.0229},{"s":0.880,"v":0.0140},{"s":0.878,"v":0.0150},{"s":0.883,"v":0.0186},{"s":0.893,"v":0.0178},{"s":0.900,"v":0.0144},{"s":0.907,"v":0.0126},{"s":0.923,"v":0.0165},{"s":0.944,"v":0.0178},{"s":0.945,"v":0.0172},{"s":0.939,"v":0.0161},{"s":0.948,"v":0.0149},{"s":0.965,"v":0.0131},{"s":0.973,"v":0.0114},{"s":0.971,"v":0.0094},{"s":0.987,"v":0.0098},{"s":0.998,"v":0.0088},{"s":1.009,"v":0.0085},{"s":1.004,"v":0.0078},{"s":1.018,"v":0.0078},{"s":1.008,"v":0.0067},{"s":1.029,"v":0.0065},{"s":1.037,"v":0.0064},{"s":1.045,"v":0.0060},{"s":1.049,"v":0.0096},{"s":1.053,"v":0.0116},{"s":1.060,"v":0.0128},{"s":1.070,"v":0.0122},{"s":1.077,"v":0.0111},{"s":1.086,"v":0.0123},{"s":1.088,"v":0.0114},{"s":1.109,"v":0.0114},{"s":1.118,"v":0.0111},{"s":1.128,"v":0.0100},{"s":1.137,"v":0.0086},{"s":1.143,"v":0.0075},{"s":1.154,"v":0.0067},{"s":1.060,"v":0.0096},{"s":1.068,"v":0.0090},{"s":1.051,"v":0.0076},{"s":1.066,"v":0.0063},{"s":1.075,"v":0.0075},{"s":1.081,"v":0.0067},{"s":1.100,"v":0.0047},{"s":1.107,"v":0.0039},{"s":1.112,"v":0.0053},{"s":1.120,"v":0.0036},{"s":1.126,"v":0.0031},{"s":1.134,"v":0.0049},{"s":1.148,"v":0.0036},{"s":1.141,"v":0.0015},{"s":1.158,"v":0.0028},{"s":1.164,"v":0.0016},{"s":1.179,"v":0.0017},{"s":1.188,"v":0.0021}
],
"cosL": [
{"s":0.7,"v":0.0585},{"s":0.714,"v":0.0567},{"s":0.729,"v":0.0545},{"s":0.748,"v":0.0523},{"s":0.767,"v":0.0504},{"s":0.784,"v":0.0481},{"s":0.804,"v":0.046},{"s":0.82,"v":0.0441},{"s":0.837,"v":0.0419},{"s":0.86,"v":0.0397},{"s":0.881,"v":0.0378},{"s":0.899,"v":0.0358},{"s":0.92,"v":0.0338},{"s":0.938,"v":0.032},{"s":0.96,"v":0.0302},{"s":0.988,"v":0.0286},{"s":1.009,"v":0.027},{"s":1.033,"v":0.0256},{"s":1.054,"v":0.0241},{"s":1.087,"v":0.0229},{"s":1.109,"v":0.022},{"s":1.134,"v":0.0209},{"s":1.16,"v":0.0203},{"s":1.185,"v":0.0196},{"s":1.216,"v":0.0192},{"s":1.242,"v":0.0189},{"s":1.273,"v":0.0188},{"s":1.303,"v":0.0188},{"s":1.331,"v":0.019},{"s":1.362,"v":0.0195},{"s":1.394,"v":0.02},{"s":1.4,"v":0.0201}
],
"regL": [
{"s":0.7,"v":0.0586},{"s":0.75,"v":0.0522},{"s":0.8,"v":0.0463},{"s":0.85,"v":0.0407},{"s":0.9,"v":0.0357},{"s":0.95,"v":0.031},{"s":1.0,"v":0.0276},{"s":1.05,"v":0.0244},{"s":1.1,"v":0.0222},{"s":1.15,"v":0.0204},{"s":1.2,"v":0.0192},{"s":1.25,"v":0.0187},{"s":1.3,"v":0.0187},{"s":1.35,"v":0.0191},{"s":1.4,"v":0.0199}
],
"npL": [
{"s":0.7,"v":0.0638},{"s":0.738,"v":0.0499},{"s":0.7995,"v":0.0437},{"s":0.8427,"v":0.04045},{"s":0.8754,"v":0.0373},{"s":0.897,"v":0.0345},{"s":0.9234,"v":0.0325},{"s":0.94,"v":0.031},{"s":0.96,"v":0.0295},{"s":0.985,"v":0.0278},{"s":1.01,"v":0.0265},{"s":1.03,"v":0.025},{"s":1.055,"v":0.0238},{"s":1.08,"v":0.0222},{"s":1.11,"v":0.021},{"s":1.14,"v":0.0203},{"s":1.165,"v":0.0194},{"s":1.2,"v":0.01905},{"s":1.4,"v":0.01905}
],
"cosR": [
{"s":0.75,"v":0.0285},{"s":0.7526,"v":0.0278},{"s":0.777,"v":0.0243},{"s":0.8026,"v":0.0211},{"s":0.828,"v":0.0179},{"s":0.856,"v":0.0151},{"s":0.885,"v":0.0124},{"s":0.912,"v":0.0099},{"s":0.942,"v":0.0076},{"s":0.973,"v":0.0057},{"s":1.005,"v":0.0039},{"s":1.037,"v":0.0024},{"s":1.071,"v":0.0013},{"s":1.106,"v":0.0008},{"s":1.141,"v":0.0008},{"s":1.18,"v":0.001},{"s":1.2,"v":0.001}
],
"regR": [
{"seg":"a","s":0.75,"v":0.0293},{"seg":"a","s":0.76,"v":0.0256},{"seg":"a","s":0.77,"v":0.021},{"seg":"a","s":0.78,"v":0.016},{"seg":"a","s":0.79,"v":0.0118},{"seg":"a","s":0.8,"v":0.0082},{"seg":"a","s":0.81,"v":0.0047},{"seg":"a","s":0.82,"v":0.0013},{"seg":"a","s":0.8235,"v":0.0},{"seg":"a","s":0.826,"v":-0.001},
{"seg":"b","s":1.108,"v":-0.001},{"seg":"b","s":1.111,"v":0.0},{"seg":"b","s":1.1147,"v":0.0009},{"seg":"b","s":1.1286,"v":0.0049},{"seg":"b","s":1.1436,"v":0.0118},{"seg":"b","s":1.153,"v":0.016},{"seg":"b","s":1.1635,"v":0.0198},{"seg":"b","s":1.174,"v":0.0239},{"seg":"b","s":1.1868,"v":0.0292},{"seg":"b","s":1.1973,"v":0.0332},{"seg":"b","s":1.2,"v":0.0342}
],
"npR": [
{"s":0.75,"v":0.03258},{"s":0.829,"v":0.01194},{"s":0.933,"v":0.00564},{"s":0.9865,"v":0.00353},{"s":1.0195,"v":0.00214},{"s":1.0447,"v":0.0015},{"s":1.075,"v":0.0011},{"s":1.11,"v":0.0007},{"s":1.2,"v":0.0008}
]
},
"resolve": {"scale": {"shape": "independent", "color": "independent"}, "legend": {"shape": "independent", "color": "independent"}},
"spacing": 33,
"hconcat": [
{
 "width": 399, "height": 420,
 "resolve": {"axis": {"x": "independent", "y": "independent"}},
 "layer": [
  {"data": {"name": "obsL"},
   "mark": {"type": "point", "shape": "circle", "filled": true, "color": "#9c9c9c", "opacity": 1, "size": 18},
   "encoding": {
    "x": {"field": "s", "type": "quantitative", "scale": {"domain": [0.7, 1.4], "nice": false, "zero": false}, "axis": {"values": [0.7, 0.8, 0.9, 1, 1.1, 1.2, 1.3, 1.4], "title": "S", "titlePadding": 3, "labelPadding": 13}},
    "y": {"field": "v", "type": "quantitative", "scale": {"domain": [0, 0.07], "nice": false, "zero": false}, "axis": {"values": [0, 0.01, 0.02, 0.03, 0.04, 0.05, 0.06, 0.07], "title": "v", "titlePadding": 8}}
   }},
  {"data": {"name": "cosL"},
   "mark": {"type": "line", "color": "black", "strokeWidth": 2, "strokeDash": [7, 3, 1.5, 3]},
   "encoding": {
    "x": {"field": "s", "type": "quantitative", "axis": {"orient": "top", "labels": false, "title": null, "values": [0.7, 0.8, 0.9, 1, 1.1, 1.2, 1.3, 1.4]}},
    "y": {"field": "v", "type": "quantitative", "axis": {"orient": "right", "labels": false, "title": null, "values": [0, 0.01, 0.02, 0.03, 0.04, 0.05, 0.06, 0.07]}}
   }},
  {"data": {"name": "cosL"},
   "transform": [{"filter": "datum.s > 0.701 && datum.s < 1.399"}],
   "mark": {"type": "point", "shape": "M-1,-1L1,1M-1,1L1,-1", "filled": false, "color": "black", "strokeWidth": 2.5, "size": 64, "opacity": 1},
   "encoding": {
    "x": {"field": "s", "type": "quantitative", "axis": null},
    "y": {"field": "v", "type": "quantitative", "axis": null}
   }},
  {"data": {"name": "regL"},
   "mark": {"type": "line", "color": "black", "strokeWidth": 2.5, "strokeDash": [7, 4]},
   "encoding": {
    "x": {"field": "s", "type": "quantitative", "axis": null},
    "y": {"field": "v", "type": "quantitative", "axis": null}
   }},
  {"data": {"name": "npL"},
   "mark": {"type": "line", "color": "#808080", "strokeWidth": 2.5, "interpolate": "step-after"},
   "encoding": {
    "x": {"field": "s", "type": "quantitative", "axis": null},
    "y": {"field": "v", "type": "quantitative", "axis": null}
   }},
  {"data": {"name": "series"},
   "mark": {"type": "point", "filled": false, "opacity": 0, "strokeWidth": 2},
   "encoding": {
    "shape": {"field": "series", "type": "nominal",
     "scale": {"domain": ["Observations", "COS 2D", "Regression-based", "Non-parametric"],
      "range": ["M-0.12,0A0.12,0.12,0,1,1,0.12,0A0.12,0.12,0,1,1,-0.12,0Z", "M-3.2,0H-2.95M-2.2,0H-0.75M-0.55,-0.55L0.55,0.55M-0.55,0.55L0.55,-0.55M0.75,0H2.2M2.95,0H3.2", "M-3.2,0H-1.6M-0.8,0H0.8M1.6,0H3.2", "M-3.2,0H3.2"]},
     "legend": {"title": null, "orient": "none", "legendX": 193, "legendY": 29, "symbolSize": 196, "symbolOffset": 16.5, "labelOffset": 24, "padding": 7, "rowPadding": 5.5, "strokeColor": "black", "fillColor": "white", "labelFont": "Liberation Sans", "labelFontSize": 14, "labelColor": "black", "labelLimit": 300, "symbolOpacity": 1, "symbolStrokeWidth": 2}},
    "color": {"field": "series", "type": "nominal",
     "scale": {"domain": ["Observations", "COS 2D", "Regression-based", "Non-parametric"], "range": ["#9c9c9c", "#000000", "#000000", "#808080"]},
     "legend": {"title": null, "orient": "none", "legendX": 193, "legendY": 29, "symbolSize": 196, "symbolOffset": 16.5, "labelOffset": 24, "padding": 7, "rowPadding": 5.5, "strokeColor": "black", "fillColor": "white", "labelFont": "Liberation Sans", "labelFontSize": 14, "labelColor": "black", "labelLimit": 300, "symbolOpacity": 1, "symbolStrokeWidth": 2}}
   }}
 ]
},
{
 "width": 399, "height": 420,
 "resolve": {"axis": {"x": "independent", "y": "independent"}},
 "layer": [
  {"data": {"name": "obsR"},
   "mark": {"type": "point", "shape": "circle", "filled": true, "color": "#9c9c9c", "opacity": 1, "size": 18},
   "encoding": {
    "x": {"field": "s", "type": "quantitative", "scale": {"domain": [0.75, 1.2], "nice": false, "zero": false}, "axis": {"values": [0.75, 0.8, 0.85, 0.9, 0.95, 1, 1.05, 1.1, 1.15, 1.2], "title": "S", "titlePadding": 3, "labelPadding": 13}},
    "y": {"field": "v", "type": "quantitative", "scale": {"domain": [0, 0.035], "nice": false, "zero": false}, "axis": {"values": [0, 0.005, 0.01, 0.015, 0.02, 0.025, 0.03, 0.035], "title": "v", "titlePadding": 8}}
   }},
  {"data": {"name": "cosR"},
   "mark": {"type": "line", "color": "black", "strokeWidth": 2, "strokeDash": [7, 3, 1.5, 3]},
   "encoding": {
    "x": {"field": "s", "type": "quantitative", "axis": {"orient": "top", "labels": false, "title": null, "values": [0.75, 0.8, 0.85, 0.9, 0.95, 1, 1.05, 1.1, 1.15, 1.2]}},
    "y": {"field": "v", "type": "quantitative", "axis": {"orient": "right", "labels": false, "title": null, "values": [0, 0.005, 0.01, 0.015, 0.02, 0.025, 0.03, 0.035]}}
   }},
  {"data": {"name": "cosR"},
   "transform": [{"filter": "datum.s > 0.751 && datum.s < 1.199"}],
   "mark": {"type": "point", "shape": "M-1,-1L1,1M-1,1L1,-1", "filled": false, "color": "black", "strokeWidth": 2.5, "size": 72, "opacity": 1},
   "encoding": {
    "x": {"field": "s", "type": "quantitative", "axis": null},
    "y": {"field": "v", "type": "quantitative", "axis": null}
   }},
  {"data": {"name": "regR"},
   "mark": {"type": "line", "color": "black", "strokeWidth": 2.5, "strokeDash": [7, 4], "clip": true},
   "encoding": {
    "x": {"field": "s", "type": "quantitative", "axis": null},
    "y": {"field": "v", "type": "quantitative", "axis": null},
    "detail": {"field": "seg", "type": "nominal"}
   }},
  {"data": {"name": "npR"},
   "mark": {"type": "line", "color": "#808080", "strokeWidth": 2.5, "interpolate": "step-after"},
   "encoding": {
    "x": {"field": "s", "type": "quantitative", "axis": null},
    "y": {"field": "v", "type": "quantitative", "axis": null}
   }},
  {"data": {"name": "series"},
   "mark": {"type": "point", "filled": false, "opacity": 0, "strokeWidth": 2},
   "encoding": {
    "shape": {"field": "series", "type": "nominal",
     "scale": {"domain": ["Observations", "COS 2D", "Regression-based", "Non-parametric"],
      "range": ["M-0.12,0A0.12,0.12,0,1,1,0.12,0A0.12,0.12,0,1,1,-0.12,0Z", "M-3.2,0H-2.95M-2.2,0H-0.75M-0.55,-0.55L0.55,0.55M-0.55,0.55L0.55,-0.55M0.75,0H2.2M2.95,0H3.2", "M-3.2,0H-1.6M-0.8,0H0.8M1.6,0H3.2", "M-3.2,0H3.2"]},
     "legend": {"title": null, "orient": "none", "legendX": 192, "legendY": 26, "symbolSize": 196, "symbolOffset": 16.5, "labelOffset": 24, "padding": 7, "rowPadding": 5.5, "strokeColor": "black", "fillColor": "white", "labelFont": "Liberation Sans", "labelFontSize": 14, "labelColor": "black", "labelLimit": 300, "symbolOpacity": 1, "symbolStrokeWidth": 2}},
    "color": {"field": "series", "type": "nominal",
     "scale": {"domain": ["Observations", "COS 2D", "Regression-based", "Non-parametric"], "range": ["#9c9c9c", "#000000", "#000000", "#808080"]},
     "legend": {"title": null, "orient": "none", "legendX": 192, "legendY": 26, "symbolSize": 196, "symbolOffset": 16.5, "labelOffset": 24, "padding": 7, "rowPadding": 5.5, "strokeColor": "black", "fillColor": "white", "labelFont": "Liberation Sans", "labelFontSize": 14, "labelColor": "black", "labelLimit": 300, "symbolOpacity": 1, "symbolStrokeWidth": 2}}
   }}
 ]
}
]
}
